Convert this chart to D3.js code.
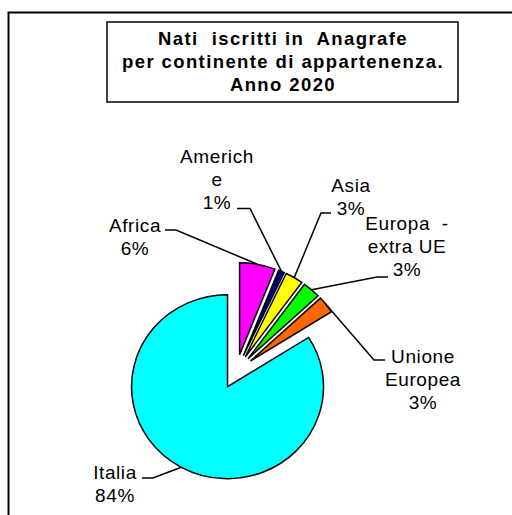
<!DOCTYPE html>
<html>
<head>
<meta charset="utf-8">
<script src="https://cdn.jsdelivr.net/npm/d3@7"></script>
<style>
  html, body { margin: 0; padding: 0; background: #fff; }
  svg { display: block; }
  text { font-family: Arial, "Liberation Sans", sans-serif; fill: #000; }
</style>
</head>
<body>
<script>
// ---- data ----
const categories = ["Africa", "Americhe", "Asia", "Europa - extra UE", "Unione Europea", "Italia"];
const values = [6, 1, 3, 3, 3, 84];
const labelNames = [["Africa"], ["Americh", "e"], ["Asia"], ["Europa  -", "extra UE"], ["Unione", "Europea"], ["Italia"]];
const colors = ["#ff00ff", "#000080", "#ffff00", "#00ff00", "#ff6600", "#00ffff"];
const titleLines = ["Nati  iscritti in  Anagrafe", "per continente di appartenenza.", "Anno 2020"];

// ---- layout (label placement: text centre x, first baseline y, leader elbow & end) ----
const labelLayout = [
  { x: 135, y: 232, elbow: [176, 230], end: [165, 230] },
  { x: 217, y: 163, elbow: [250, 208.5], end: [237, 208.5] },
  { x: 351, y: 192, elbow: [321, 213], end: [331, 213] },
  { x: 407, y: 230, elbow: [377, 277], end: [388, 277] },
  { x: 423, y: 363, elbow: [374, 360], end: [385, 360] },
  { x: 115, y: 479, elbow: [153, 478], end: [142, 478] }
];

const W = 512, H = 515;
const svg = d3.select("body").append("svg").attr("width", W).attr("height", H);

// outer frame (extends past the right/bottom edges)
svg.append("rect").attr("x", 8.5).attr("y", 12.5).attr("width", 620).attr("height", 620)
  .attr("fill", "#fff").attr("stroke", "#000").attr("stroke-width", 2);

// title box
svg.append("rect").attr("x", 107).attr("y", 22).attr("width", 351).attr("height", 80)
  .attr("fill", "#fff").attr("stroke", "#000").attr("stroke-width", 1.5);
svg.append("g").selectAll("text").data(titleLines).join("text")
  .attr("x", 283).attr("y", (d, i) => 45 + i * 23)
  .attr("text-anchor", "middle")
  .style("font-weight", "bold").style("font-size", "18.5px")
  .style("letter-spacing", "1.4px").style("white-space", "pre")
  .text(d => d);

// ---- pie ----
const cx = 236.2, cy = 371.6, R = 96, k = 0.958, explode = 18;
const pie = d3.pie().sort(null).startAngle(0).endAngle(2 * Math.PI);
const arcs = pie(values);
const arc = d3.arc().innerRadius(0).outerRadius(R);

function offset(a) {
  const m = (a.startAngle + a.endAngle) / 2;
  return [cx + explode * Math.sin(m), cy - k * explode * Math.cos(m)];
}

const slices = svg.append("g").selectAll("g").data(arcs).join("g")
  .attr("transform", d => { const o = offset(d); return `translate(${o[0]},${o[1]}) scale(1,${k})`; });
slices.append("path")
  .attr("d", arc)
  .attr("fill", (d, i) => colors[i])
  .attr("stroke", "#000").attr("stroke-width", 1.5)
  .attr("stroke-linejoin", "miter")
  .attr("vector-effect", "non-scaling-stroke");

// ---- leader lines and labels ----
const pct = d3.format(".0%");
const total = d3.sum(values);
arcs.forEach((a, i) => {
  const m = (a.startAngle + a.endAngle) / 2;
  const o = offset(a);
  const start = [o[0] + R * Math.sin(m), o[1] - k * R * Math.cos(m)];
  const L = labelLayout[i];
  svg.append("path")
    .attr("d", d3.line()([start, L.elbow, L.end]))
    .attr("fill", "none").attr("stroke", "#000").attr("stroke-width", 1.5);
  const lines = labelNames[i].concat([pct(values[i] / total)]);
  svg.append("g").selectAll("text").data(lines).join("text")
    .attr("x", L.x).attr("y", (d, j) => L.y + j * 23)
    .attr("text-anchor", "middle")
    .style("font-size", "19px").style("letter-spacing", "0.6px").style("white-space", "pre")
    .text(d => d);
});
</script>
</body>
</html>
